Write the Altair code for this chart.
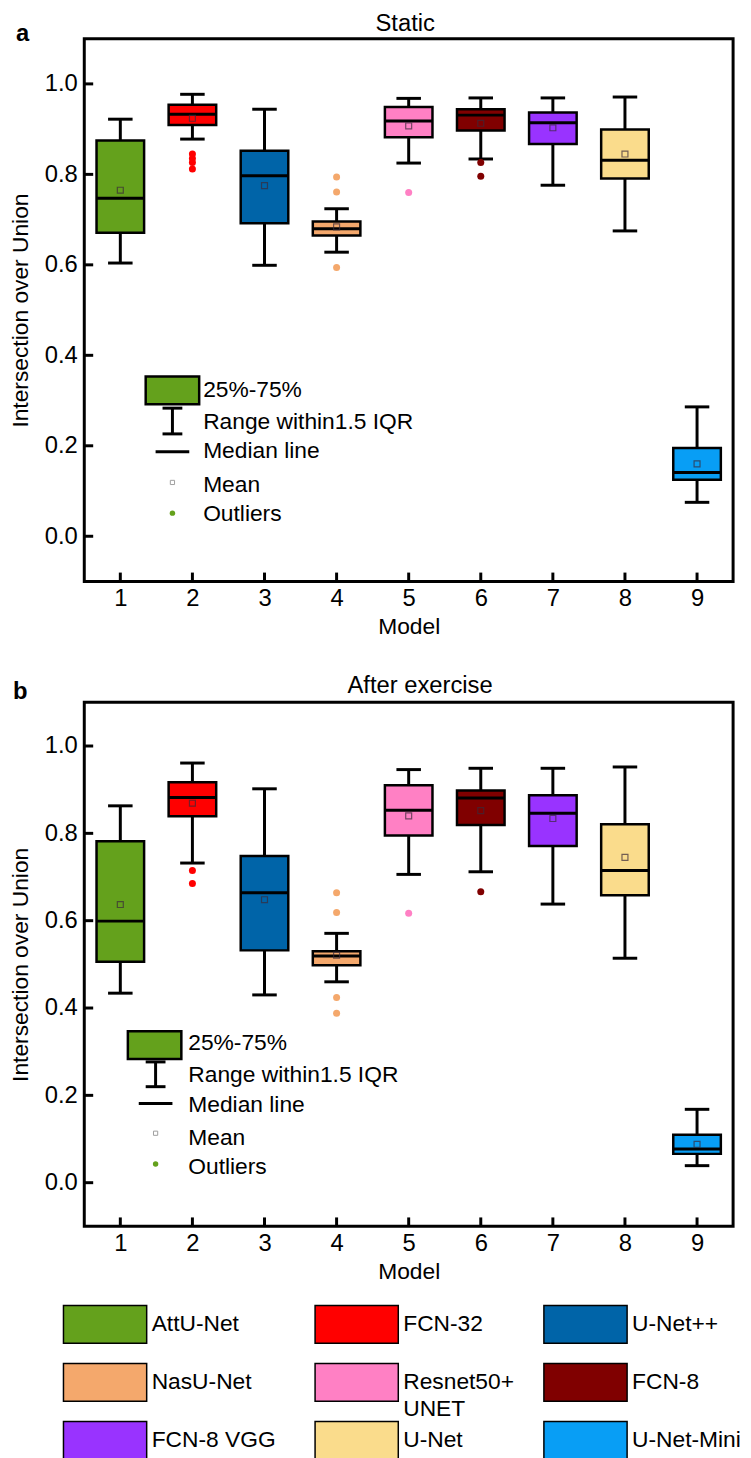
import altair as alt
import pandas as pd

# ---------------- data ----------------
models = ["AttU-Net", "FCN-32", "U-Net++", "NasU-Net", "Resnet50+\nUNET",
          "FCN-8", "FCN-8 VGG", "U-Net", "U-Net-Mini"]
colors = ["#64a11c", "#ff0000", "#0064a8", "#f4a86c", "#ff80c4",
          "#800000", "#9933ff", "#fadc8c", "#089ef5"]
model_ids = [1, 2, 3, 4, 5, 6, 7, 8, 9]

static_lo = [0.604, 0.878, 0.599, 0.628, 0.825, 0.834, 0.776, 0.675, 0.075]
static_q1 = [0.671, 0.909, 0.692, 0.665, 0.882, 0.897, 0.867, 0.791, 0.125]
static_med = [0.747, 0.933, 0.797, 0.680, 0.918, 0.931, 0.914, 0.831, 0.141]
static_mean = [0.765, 0.924, 0.775, 0.684, 0.907, 0.913, 0.903, 0.845, 0.160]
static_q3 = [0.875, 0.954, 0.852, 0.696, 0.949, 0.944, 0.937, 0.899, 0.195]
static_hi = [0.922, 0.977, 0.944, 0.724, 0.968, 0.969, 0.969, 0.971, 0.286]
static_out_model = [2, 2, 2, 2, 4, 4, 4, 5, 6, 6]
static_out_value = [0.845, 0.835, 0.826, 0.812, 0.794, 0.761, 0.594, 0.760, 0.826, 0.796]

after_lo = [0.434, 0.732, 0.430, 0.460, 0.706, 0.712, 0.638, 0.514, 0.039]
after_q1 = [0.506, 0.839, 0.532, 0.498, 0.795, 0.819, 0.771, 0.658, 0.066]
after_med = [0.599, 0.882, 0.664, 0.519, 0.853, 0.881, 0.846, 0.715, 0.077]
after_mean = [0.637, 0.869, 0.648, 0.521, 0.840, 0.852, 0.834, 0.745, 0.088]
after_q3 = [0.782, 0.917, 0.748, 0.530, 0.910, 0.898, 0.887, 0.821, 0.110]
after_hi = [0.863, 0.961, 0.902, 0.571, 0.946, 0.949, 0.949, 0.952, 0.168]
after_out_model = [2, 2, 4, 4, 4, 4, 5, 6]
after_out_value = [0.715, 0.685, 0.664, 0.619, 0.424, 0.388, 0.617, 0.666]

x_ticks = [1, 2, 3, 4, 5, 6, 7, 8, 9]
y_ticks = [0.0, 0.2, 0.4, 0.6, 0.8, 1.0]
inset_labels = ["25%-75%", "Range within1.5 IQR", "Median line", "Mean", "Outliers"]

# ---------------- style ----------------
FONT = "Liberation Sans"
W = 655
BOX_HALF = 0.33
CAP_HALF = 0.17
TICK = 9

XAXIS = alt.Axis(values=x_ticks, ticks=False, domain=False, grid=False,
                 labelFont=FONT, labelFontSize=24, labelColor="black", labelPadding=5,
                 title="Model", titleFont=FONT, titleFontSize=23,
                 titleFontWeight="normal", titleColor="black", titlePadding=6)
YAXIS = alt.Axis(values=y_ticks, format=".1f", ticks=False, domain=False, grid=False,
                 labelFont=FONT, labelFontSize=24, labelColor="black", labelPadding=7,
                 title="Intersection over Union", titleFont=FONT, titleFontSize=23,
                 titleFontWeight="normal", titleColor="black", titlePadding=12)


def panel(title, letter, lo, q1, med, mean, q3, hi, om, ov, height, deco):
    df = pd.DataFrame(dict(model=model_ids, color=colors, lo=lo, q1=q1, med=med,
                           mean=mean, q3=q3, hi=hi))
    base = alt.Chart(df).transform_calculate(
        xl=f"datum.model - {BOX_HALF}", xr=f"datum.model + {BOX_HALF}",
        cl=f"datum.model - {CAP_HALF}", cr=f"datum.model + {CAP_HALF}")
    xs = alt.Scale(domain=[0.5, 9.5], nice=False, zero=False)
    ys = alt.Scale(domain=[-0.1, 1.1], nice=False, zero=False)

    def X(f):
        return alt.X(f, type="quantitative", scale=xs, axis=XAXIS)

    def Y(f):
        return alt.Y(f, type="quantitative", scale=ys, axis=YAXIS)

    boxes = base.mark_rect(stroke="black", strokeWidth=2.5).encode(
        x=X("xl"), x2=alt.X2("xr"), y=Y("q1"), y2=alt.Y2("q3"),
        fill=alt.Fill("color:N", scale=None))
    w_lo = base.mark_rule(strokeWidth=3, color="black").encode(
        x=X("model"), y=Y("lo"), y2=alt.Y2("q1"))
    w_hi = base.mark_rule(strokeWidth=3, color="black").encode(
        x=X("model"), y=Y("q3"), y2=alt.Y2("hi"))
    c_hi = base.mark_rule(strokeWidth=3, color="black").encode(
        x=X("cl"), x2=alt.X2("cr"), y=Y("hi"))
    c_lo = base.mark_rule(strokeWidth=3, color="black").encode(
        x=X("cl"), x2=alt.X2("cr"), y=Y("lo"))
    medl = base.mark_rule(strokeWidth=3, color="black").encode(
        x=X("xl"), x2=alt.X2("xr"), y=Y("med"))
    meanp = base.mark_point(shape="square", filled=False, size=36, strokeWidth=1.2,
                            color="#3a2a3a", opacity=0.7).encode(
        x=X("model"), y=Y("mean"))

    odf = pd.DataFrame(dict(model=om, value=ov, color=[colors[m - 1] for m in om]))
    outl = alt.Chart(odf).mark_circle(size=50, opacity=1).encode(
        x=X("model"), y=Y("value"), color=alt.Color("color:N", scale=None))

    xt = alt.Chart(pd.DataFrame({"t": x_ticks})).mark_rule(strokeWidth=3, color="black").encode(
        x=X("t"), y=alt.value(height), y2=alt.value(height - TICK))
    yt = alt.Chart(pd.DataFrame({"t": y_ticks})).mark_rule(strokeWidth=3, color="black").encode(
        y=Y("t"), x=alt.value(0), x2=alt.value(TICK))

    one = alt.Chart(pd.DataFrame({"k": [0]}))
    d = deco
    sw = one.mark_rect(fill=colors[0], stroke="black", strokeWidth=2.5).encode(
        x=alt.value(d["sx"]), x2=alt.value(d["sx"] + 54),
        y=alt.value(d["sy"]), y2=alt.value(d["sy"] + 28))
    iw = one.mark_rule(strokeWidth=3, color="black").encode(
        x=alt.value(d["ix"]), y=alt.value(d["wy0"]), y2=alt.value(d["wy1"]))
    iw1 = one.mark_rule(strokeWidth=3, color="black").encode(
        x=alt.value(d["ix"] - 10), x2=alt.value(d["ix"] + 10), y=alt.value(d["wy0"]))
    iw2 = one.mark_rule(strokeWidth=3, color="black").encode(
        x=alt.value(d["ix"] - 10), x2=alt.value(d["ix"] + 10), y=alt.value(d["wy1"]))
    im = one.mark_rule(strokeWidth=3, color="black").encode(
        x=alt.value(d["ix"] - 17), x2=alt.value(d["ix"] + 17), y=alt.value(d["my"]))
    imean = one.mark_point(shape="square", filled=False, size=18, strokeWidth=1,
                           color="#777777").encode(
        x=alt.value(d["ix"]), y=alt.value(d["meany"]))
    iout = one.mark_circle(size=30, color=colors[0], opacity=1).encode(
        x=alt.value(d["ix"]), y=alt.value(d["outy"]))
    texts = []
    for lab, ly in zip(inset_labels, d["ly"]):
        texts.append(one.mark_text(text=lab, align="left", baseline="middle", font=FONT,
                                   fontSize=23, color="black").encode(
            x=alt.value(d["lx"]), y=alt.value(ly)))
    ttl = one.mark_text(text=title, align="center", baseline="alphabetic", font=FONT,
                        fontSize=24, color="black").encode(
        x=alt.value(d["tx"]), y=alt.value(d["ty"]))
    let = one.mark_text(text=letter, align="left", baseline="alphabetic", font=FONT,
                        fontSize=24, fontWeight="bold", color="black").encode(
        x=alt.value(d["ax"]), y=alt.value(d["ay"]))

    return alt.layer(boxes, w_lo, w_hi, c_hi, c_lo, medl, meanp, outl, xt, yt,
                     sw, iw, iw1, iw2, im, imean, iout, *texts, ttl, let).properties(
        width=W, height=height)


top_deco = dict(sx=62, sy=341, ix=89, wy0=373, wy1=399, my=417, meany=448, outy=479,
                lx=120, ly=[355, 387, 416, 451, 480], tx=324, ty=-8, ax=-69, ay=2)
bot_deco = dict(sx=44, sy=332, ix=72, wy0=363, wy1=388, my=405, meany=435, outy=466,
                lx=105, ly=[344, 376, 407, 440, 469], tx=339, ty=-9, ax=-72, ay=-3)

top = panel("Static", "a", static_lo, static_q1, static_med, static_mean, static_q3,
            static_hi, static_out_model, static_out_value, 548, top_deco)
bottom = panel("After exercise", "b", after_lo, after_q1, after_med, after_mean, after_q3,
               after_hi, after_out_model, after_out_value, 529, bot_deco)

# ---------------- bottom legend ----------------
ldf = pd.DataFrame(dict(name=models, color=colors,
                        col=[i % 3 for i in range(len(models))],
                        row=[i // 3 for i in range(len(models))]))
lx = alt.Scale(domain=[0, 1, 2], range=[-21, 233, 464])
ly = alt.Scale(domain=[0, 2], range=[20, 137])
lbase = alt.Chart(ldf)
lsw = lbase.mark_rect(stroke="black", strokeWidth=1.5, x2Offset=84,
                      yOffset=-19, y2Offset=19).encode(
    x=alt.X("col:Q", scale=lx, axis=None), x2=alt.X2("col"),
    y=alt.Y("row:Q", scale=ly, axis=None), y2=alt.Y2("row"),
    fill=alt.Fill("color:N", scale=None))
ltx = lbase.mark_text(align="left", baseline="middle", dx=89, font=FONT, fontSize=23,
                      color="black", lineBreak="\n", lineHeight=27).encode(
    x=alt.X("col:Q", scale=lx, axis=None), y=alt.Y("row:Q", scale=ly, axis=None),
    text="name:N")
legend = alt.layer(lsw, ltx).properties(width=W, height=150,
                                         view=alt.ViewConfig(stroke="transparent"))

chart = alt.vconcat(alt.vconcat(top, bottom, spacing=32), legend, spacing=17).properties(
    padding={"top": -5, "left": 0, "right": 0, "bottom": 0}
).configure(font=FONT).configure_view(stroke="black", strokeWidth=3)

chart.save("out.html", embed_options={"renderer": "svg", "actions": False})
